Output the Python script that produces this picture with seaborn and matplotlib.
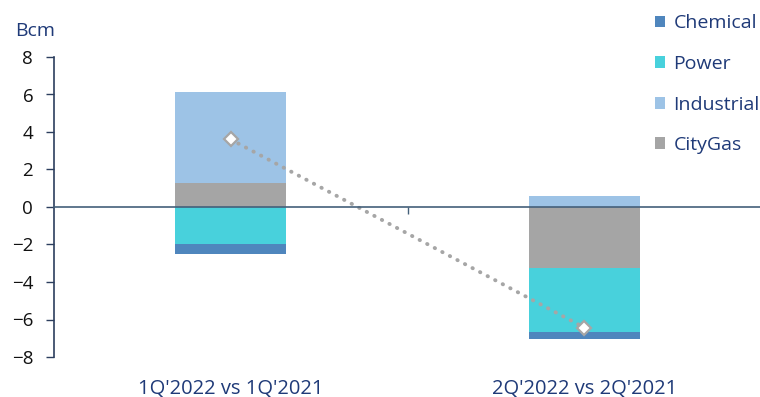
import numpy as np
import pandas as pd
import matplotlib
matplotlib.use("Agg")
import matplotlib.pyplot as plt
import seaborn as sns
from matplotlib.patches import Patch

categories = ["1Q'2022 vs 1Q'2021", "2Q'2022 vs 2Q'2021"]
chemical = [-0.58, -0.37]
power = [-1.95, -3.42]
industrial = [4.83, 0.61]
citygas = [1.30, -3.25]
total = [3.60, -6.43]

series_names = ["Chemical", "Power", "Industrial", "CityGas"]
colors = {"Chemical": "#4f86bd", "Power": "#48d1dc", "Industrial": "#9dc3e6", "CityGas": "#a5a5a5"}
values = {"Chemical": chemical, "Power": power, "Industrial": industrial, "CityGas": citygas}

sns.set_theme(style="white")
plt.rcParams["font.family"] = ["Open Sans", "DejaVu Sans"]

fig = plt.figure(figsize=(7.6, 3.97), dpi=100)
ax = fig.add_axes([54 / 760, 1 - 357 / 397, 707 / 760, 300 / 397])

navy = "#1f3a78"
stack_order = ["CityGas", "Power", "Chemical", "Industrial"]
pos_base = np.zeros(len(categories))
neg_base = np.zeros(len(categories))
for name in stack_order:
    v = np.array(values[name], dtype=float)
    bottom = np.where(v >= 0, pos_base, neg_base)
    df = pd.DataFrame({"cat": categories, "val": v})
    sns.barplot(data=df, x="cat", y="val", bottom=bottom, color=colors[name],
                saturation=1, width=0.314, ax=ax, edgecolor="none", linewidth=0,
                errorbar=None)
    pos_base = pos_base + np.where(v >= 0, v, 0)
    neg_base = neg_base + np.where(v < 0, v, 0)

tdf = pd.DataFrame({"cat": categories, "val": total})
sns.lineplot(data=tdf, x="cat", y="val", ax=ax, color="#a6a6a6", linewidth=2.8,
             linestyle=(0, (0.1, 2.1)), dash_capstyle="round", marker="D",
             markersize=7, markerfacecolor="white", markeredgecolor="#a6a6a6",
             markeredgewidth=1.6, zorder=5)

ax.set_xlim(-0.5, 1.5)
ax.set_ylim(-8, 8)
ax.set_yticks(np.arange(-8, 9, 2))
ax.set_xlabel("")
ax.set_ylabel("")

for s in ["top", "right"]:
    ax.spines[s].set_visible(False)
ax.spines["left"].set_color("#2c3e5e")
ax.spines["left"].set_linewidth(1.2)
ax.spines["bottom"].set_position(("data", 0))
ax.spines["bottom"].set_color("#44607a")
ax.spines["bottom"].set_linewidth(1.2)
ax.spines["bottom"].set_zorder(6)

ax.tick_params(axis="y", which="major", left=True, length=6, width=1.0, color="#2c3e5e",
               pad=9, labelsize=13.5, labelcolor="#111111", direction="out")
ax.set_xticks([0.5], minor=True)
ax.tick_params(axis="x", which="minor", bottom=True, length=5, width=1.0, color="#44607a", direction="out")
ax.tick_params(axis="x", which="major", bottom=False, length=0, pad=123.5, labelsize=14.5, labelcolor=navy)

fig.text(15 / 760, 1 - 31 / 397, "Bcm", color=navy, fontsize=14, ha="left", va="center")

handles = [Patch(facecolor=colors[n], edgecolor="none") for n in series_names]
fig.legend(handles, series_names, loc="upper left", bbox_to_anchor=(643 / 760, 0.993),
           frameon=False, fontsize=14, labelcolor=navy, handlelength=0.55,
           handleheight=0.55, handletextpad=0.42, labelspacing=1.16, borderaxespad=0.2)

fig.savefig("out.png", dpi=100)
